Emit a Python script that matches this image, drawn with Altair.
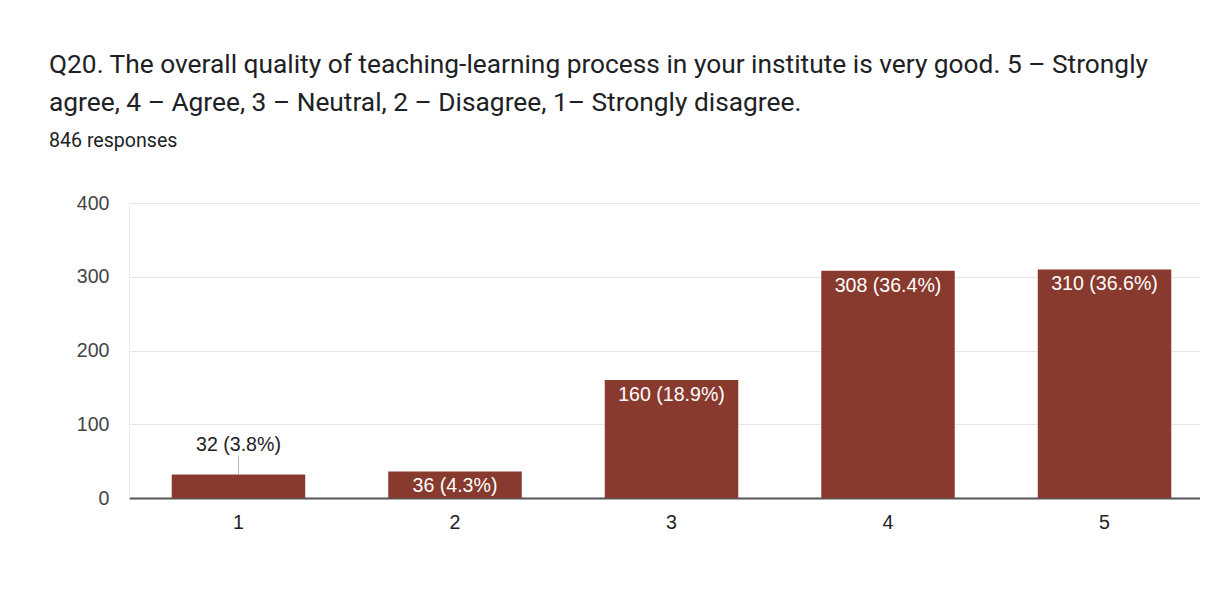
import altair as alt
import pandas as pd

# ---- data ----
categories = ["1", "2", "3", "4", "5"]
counts = [32, 36, 160, 308, 310]
total_responses = 846

title_lines = [
    "Q20. The overall quality of teaching-learning process in your institute is very good. 5 \u2013 Strongly",
    "agree, 4 \u2013 Agree, 3 \u2013 Neutral, 2 \u2013 Disagree, 1\u2013 Strongly disagree.",
]
subtitle_text = f"{total_responses} responses"
y_ticks = [0, 50, 100, 150, 200, 250, 300, 350, 400]

df = pd.DataFrame({"cat": categories, "count": counts})
df["label"] = [f"{c} ({c / total_responses * 100:.1f}%)" for c in counts]
df["inside"] = df["count"] >= 35

BAR = "#883a2e"
LABEL_FONT = "Liberation Sans"
FS = 19.6
XOFF = 7

x_scale = alt.Scale(paddingInner=0.3834, paddingOuter=0.165)
x_enc = alt.X(
    "cat:N",
    sort=categories,
    scale=x_scale,
    axis=alt.Axis(
        title=None,
        labelAngle=0,
        labelFont=LABEL_FONT,
        labelFontSize=FS,
        labelColor="#222222",
        labelPadding=15,
        labelOffset=XOFF,
        ticks=False,
        tickSize=0,
        domain=True,
        domainColor="#555555",
        domainWidth=2,
        grid=False,
    ),
)
x_plain = alt.X("cat:N", sort=categories, scale=x_scale)
y_scale = alt.Scale(domain=[0, 400], nice=False)

bars = alt.Chart(df).mark_bar(color=BAR, xOffset=XOFF).encode(
    x=x_enc,
    y=alt.Y(
        "count:Q",
        scale=y_scale,
        axis=alt.Axis(
            title=None,
            values=y_ticks,
            labelExpr="datum.value % 100 === 0 ? datum.label : ''",
            labelFont=LABEL_FONT,
            labelFontSize=FS,
            labelColor="#444444",
            labelPadding=20,
            ticks=False,
            tickSize=0,
            domain=True,
            domainColor="#ececec",
            grid=True,
            gridColor=alt.condition(
                "datum.value % 100 === 0", alt.value("#e6e6e6"), alt.value("#f4f4f4")
            ),
            gridWidth=1,
        ),
    ),
)

inside_labels = (
    alt.Chart(df)
    .transform_filter("datum.inside")
    .mark_text(
        font=LABEL_FONT, fontSize=FS, color="#ffffff", baseline="alphabetic",
        dy=21, xOffset=XOFF,
    )
    .encode(x=x_plain, y=alt.Y("count:Q", scale=y_scale), text="label:N")
)

outside_labels = (
    alt.Chart(df)
    .transform_filter("!datum.inside")
    .mark_text(
        font=LABEL_FONT, fontSize=FS, color="#222222", baseline="alphabetic",
        dy=-23, xOffset=XOFF,
    )
    .encode(x=x_plain, y=alt.Y("count:Q", scale=y_scale), text="label:N")
)

leader = (
    alt.Chart(df)
    .transform_filter("!datum.inside")
    .mark_tick(
        orient="vertical", size=19, thickness=1, color="#999999",
        yOffset=-9.5, xOffset=XOFF,
    )
    .encode(x=x_plain, y=alt.Y("count:Q", scale=y_scale))
)

chart = (
    alt.layer(bars, leader, inside_labels, outside_labels)
    .properties(
        width=1071,
        height=295,
        autosize=alt.AutoSizeParams(type="none"),
        padding={"left": 121, "top": 195, "right": 0, "bottom": 60},
        background="#ffffff",
        title=alt.TitleParams(
            text=title_lines,
            subtitle=subtitle_text,
            anchor="start",
            frame="group",
            dx=-80,
            offset=42.5,
            font="Roboto",
            fontSize=26.3,
            fontWeight="normal",
            color="#202124",
            lineHeight=37.5,
            subtitleFont="Roboto",
            subtitleFontSize=19.6,
            subtitleColor="#202124",
            subtitlePadding=16,
        ),
    )
    .configure_view(stroke=None)
)

chart.save("out.html", embed_options={"renderer": "svg", "actions": False})
